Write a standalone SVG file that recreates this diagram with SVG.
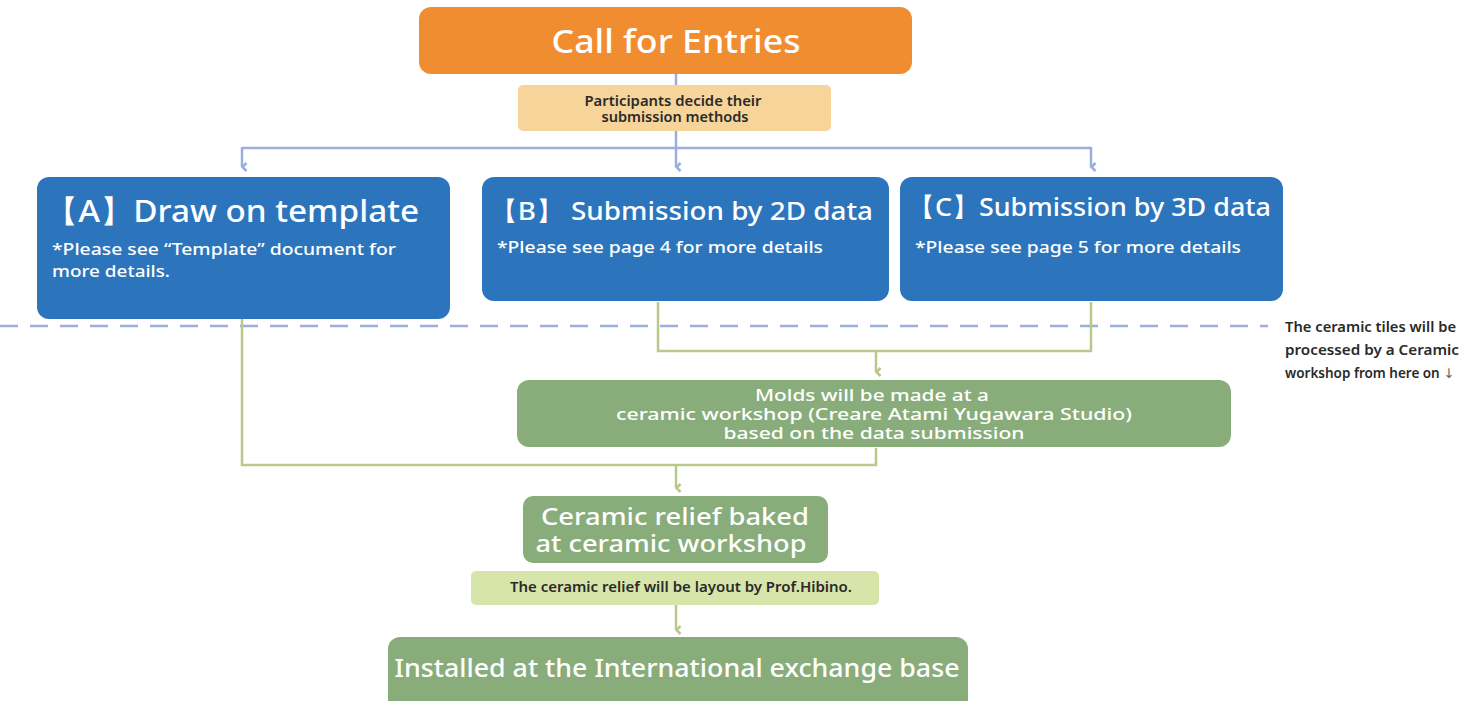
<svg xmlns="http://www.w3.org/2000/svg" width="1482" height="701" viewBox="0 0 1482 701">
<style>
.t{font-family:"Noto Sans","Liberation Sans",sans-serif;}
.w{fill:#ffffff;font-weight:500;}
.d{fill:#2a2a2a;font-weight:600;}
.blue{fill:#2C75BD;}
.green{fill:#88AD7B;}
.cb{fill:none;stroke:#9AAFDB;stroke-width:2.5;}
.cg{fill:none;stroke:#B8C98A;stroke-width:2.5;}
</style>
<defs>
<marker id="ab" viewBox="0 0 12 12" refX="6" refY="10.5" markerWidth="12" markerHeight="12" markerUnits="userSpaceOnUse" orient="auto">
<path d="M2,6 L6,10 L10,6" fill="none" stroke="#9AAFDB" stroke-width="2.6"/>
</marker>
<marker id="ag" viewBox="0 0 12 12" refX="6" refY="10.5" markerWidth="12" markerHeight="12" markerUnits="userSpaceOnUse" orient="auto">
<path d="M2,6 L6,10 L10,6" fill="none" stroke="#B8C98A" stroke-width="2.6"/>
</marker>
</defs>
<rect width="1482" height="701" fill="#ffffff"/>
<g id="connectors">
<line x1="676" y1="74" x2="676" y2="85" class="cb"/>
<line x1="676" y1="131" x2="676" y2="167" class="cb" marker-end="url(#ab)"/>
<polyline points="242,148 1091,148" class="cb"/>
<line x1="242" y1="147" x2="242" y2="167" class="cb" marker-end="url(#ab)"/>
<line x1="1091" y1="147" x2="1091" y2="167" class="cb" marker-end="url(#ab)"/>
<line x1="0" y1="326" x2="1268" y2="326" stroke="#9AAFDB" stroke-width="2.5" stroke-dasharray="18,12"/>
<polyline points="658,302 658,351 1091,351 1091,302" class="cg"/>
<line x1="876" y1="351" x2="876" y2="372" class="cg" marker-end="url(#ag)"/>
<polyline points="242,319 242,465 876,465 876,448" class="cg"/>
<line x1="676" y1="465" x2="676" y2="488" class="cg" marker-end="url(#ag)"/>
<line x1="676" y1="605" x2="676" y2="630" class="cg" marker-end="url(#ag)"/>
</g>
<g id="call">
<rect x="419" y="7" width="493" height="67" rx="12" fill="#F18D31"/>
<text x="676" y="53" class="t w" font-size="32" text-anchor="middle" textLength="249" lengthAdjust="spacingAndGlyphs">Call for Entries</text>
</g>
<g id="decide">
<rect x="518" y="85" width="313" height="46" rx="5" fill="#F7D49A"/>
<text x="673" y="106" class="t d" font-size="14" text-anchor="middle" textLength="177" lengthAdjust="spacingAndGlyphs">Participants decide their</text>
<text x="675" y="122" class="t d" font-size="14" text-anchor="middle" textLength="147" lengthAdjust="spacingAndGlyphs">submission methods</text>
</g>
<g id="nodeA">
<rect x="37" y="177" width="413" height="142" rx="12" class="blue"/>
<text x="45" y="222" class="t w" font-size="31" textLength="374" lengthAdjust="spacingAndGlyphs">【A】Draw on template</text>
<text x="52" y="255" class="t w" font-size="17" textLength="344" lengthAdjust="spacingAndGlyphs">*Please see “Template” document for</text>
<text x="52" y="277" class="t w" font-size="17" textLength="118" lengthAdjust="spacingAndGlyphs">more details.</text>
</g>
<g id="nodeB">
<rect x="482" y="177" width="407" height="124" rx="12" class="blue"/>
<text x="490" y="220" class="t w" font-size="26" textLength="383" lengthAdjust="spacingAndGlyphs">【B】 Submission by 2D data</text>
<text x="497" y="253" class="t w" font-size="17" textLength="326" lengthAdjust="spacingAndGlyphs">*Please see page 4 for more details</text>
</g>
<g id="nodeC">
<rect x="900" y="177" width="383" height="124" rx="12" class="blue"/>
<text x="908" y="216" class="t w" font-size="26" textLength="363" lengthAdjust="spacingAndGlyphs">【C】Submission by 3D data</text>
<text x="915" y="253" class="t w" font-size="17" textLength="326" lengthAdjust="spacingAndGlyphs">*Please see page 5 for more details</text>
</g>
<g id="note">
<text x="1285" y="332" class="t d" font-size="13.5" textLength="171" lengthAdjust="spacingAndGlyphs">The ceramic tiles will be</text>
<text x="1285" y="355" class="t d" font-size="13.5" textLength="174" lengthAdjust="spacingAndGlyphs">processed by a Ceramic</text>
<text x="1285" y="378" class="t d" font-size="13.5">workshop from here on <tspan font-family="DejaVu Sans" fill="#666666" font-weight="400">↓</tspan></text>
</g>
<g id="molds">
<rect x="517" y="380" width="714" height="67" rx="12" class="green"/>
<text x="872" y="401" class="t w" font-size="16" text-anchor="middle" textLength="234" lengthAdjust="spacingAndGlyphs">Molds will be made at a</text>
<text x="874" y="420" class="t w" font-size="16" text-anchor="middle" textLength="516" lengthAdjust="spacingAndGlyphs">ceramic workshop (Creare Atami Yugawara Studio)</text>
<text x="874" y="439" class="t w" font-size="16" text-anchor="middle" textLength="301" lengthAdjust="spacingAndGlyphs">based on the data submission</text>
</g>
<g id="baked">
<rect x="523" y="496" width="305" height="67" rx="10" class="green"/>
<text x="675" y="525" class="t w" font-size="24" text-anchor="middle" textLength="268" lengthAdjust="spacingAndGlyphs">Ceramic relief baked</text>
<text x="671" y="552" class="t w" font-size="24" text-anchor="middle" textLength="271" lengthAdjust="spacingAndGlyphs">at ceramic workshop</text>
</g>
<g id="layout">
<rect x="471" y="571" width="408" height="34" rx="5" fill="#D8E5AA"/>
<text x="681" y="592" class="t d" font-size="13.5" text-anchor="middle" textLength="342" lengthAdjust="spacingAndGlyphs">The ceramic relief will be layout by  Prof.Hibino.</text>
</g>
<g id="installed">
<rect x="388" y="637" width="580" height="80" rx="12" class="green"/>
<text x="677" y="677" class="t w" font-size="26" text-anchor="middle" textLength="565" lengthAdjust="spacingAndGlyphs">Installed at the International exchange base</text>
</g>
</svg>
